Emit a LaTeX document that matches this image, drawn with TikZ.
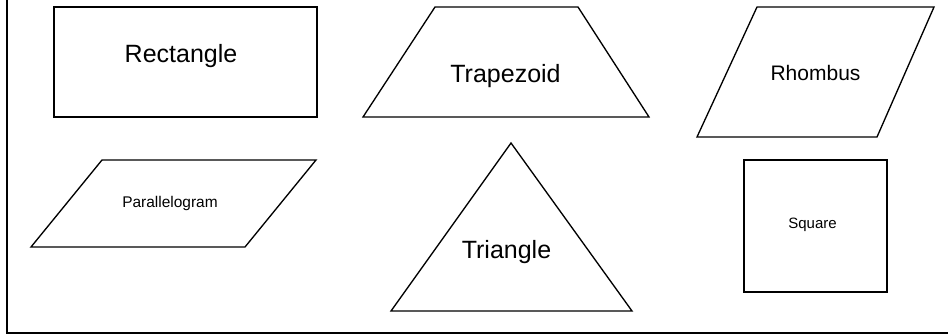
\documentclass[tikz,border=0pt]{standalone}
\usepackage{fontspec}
\setmainfont{Liberation Sans}
\usepackage{tikz}
\usetikzlibrary{positioning, calc}

\begin{document}
\begin{tikzpicture}[
        x=0.75pt, y=-0.75pt,
        % shape and label styles
        outline/.style={draw=black, line width=1pt, line join=miter},
        frameline/.style={draw=black, line width=1.1pt},
        bigname/.style={anchor=base, inner sep=0pt, font=\fontsize{18.75pt}{22pt}\selectfont},
        midname/.style={anchor=base, inner sep=0pt, font=\fontsize{15.75pt}{18pt}\selectfont},
        smallname/.style={anchor=base, inner sep=0pt, font=\fontsize{11.6pt}{14pt}\selectfont}
    ]
    \useasboundingbox (0,0) rectangle (948,335);

    % --- 1. FRAME ---
    \draw[frameline] (7,0) -- (7,333) -- (948,333);

    % --- 2. SHAPES ---
    \draw[outline] (54,7) rectangle (317,117);
    \draw[outline] (435,7) -- (578,7) -- (649,117) -- (363,117) -- cycle;
    \draw[outline] (757,7) -- (934,7) -- (877,137) -- (697,137) -- cycle;
    \draw[outline] (102,160) -- (316,160) -- (245,247) -- (31,247) -- cycle;
    \draw[outline] (511,143) -- (632,311) -- (391,311) -- cycle;
    \draw[outline] (744,160) rectangle (887,292);

    % --- 3. NAMES ---
    \node[bigname] (rect) at (181,63) {Rectangle};
    \node[bigname] (trap) at (505.5,83) {Trapezoid};
    \node[midname] (rhomb) at (815.5,80) {Rhombus};
    \node[smallname] (para) at (170,207) {Parallelogram};
    \node[bigname] (tri) at (506.5,258) {Triangle};
    \node[smallname, font=\fontsize{11.25pt}{14pt}\selectfont] (sq) at (812.5,228) {Square};

\end{tikzpicture}
\end{document}
